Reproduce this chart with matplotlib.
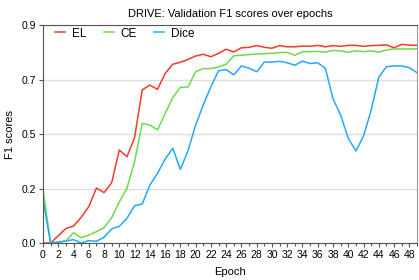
import matplotlib
matplotlib.use("Agg")
import matplotlib.pyplot as plt
from matplotlib.ticker import MultipleLocator

plt.rcParams['font.family'] = ['Liberation Sans', 'DejaVu Sans']

epochs = list(range(50))

el_scores = [0.0, 0.0, 0.03, 0.06, 0.07, 0.106, 0.15, 0.227, 0.208, 0.249,
             0.384, 0.356, 0.435, 0.632, 0.652, 0.634, 0.70, 0.738, 0.746, 0.758,
             0.772, 0.779, 0.769, 0.783, 0.80, 0.789, 0.806, 0.808, 0.815, 0.808,
             0.804, 0.815, 0.81, 0.81, 0.813, 0.812, 0.816, 0.81, 0.815, 0.812,
             0.816, 0.816, 0.812, 0.815, 0.816, 0.818, 0.806, 0.82, 0.817, 0.816]

ce_scores = [0.223, 0.0, 0.004, 0.008, 0.043, 0.022, 0.033, 0.047, 0.063, 0.105,
             0.17, 0.226, 0.336, 0.494, 0.487, 0.467, 0.535, 0.60, 0.643, 0.644,
             0.707, 0.72, 0.72, 0.727, 0.738, 0.773, 0.775, 0.778, 0.78, 0.782,
             0.783, 0.786, 0.787, 0.775, 0.79, 0.79, 0.791, 0.788, 0.795, 0.793,
             0.788, 0.793, 0.79, 0.793, 0.788, 0.797, 0.801, 0.801, 0.801, 0.802]

dice_scores = [0.178, 0.0, 0.004, 0.008, 0.014, 0.0, 0.01, 0.007, 0.024, 0.058,
               0.069, 0.102, 0.154, 0.161, 0.239, 0.288, 0.346, 0.391, 0.304, 0.381,
               0.487, 0.57, 0.645, 0.711, 0.716, 0.694, 0.731, 0.722, 0.707, 0.747,
               0.747, 0.75, 0.744, 0.734, 0.751, 0.741, 0.744, 0.721, 0.595, 0.528,
               0.432, 0.38, 0.442, 0.549, 0.685, 0.728, 0.731, 0.731, 0.724, 0.703]

series = [("EL", el_scores, "#F23A2A"),
          ("CE", ce_scores, "#6ADB4A"),
          ("Dice", dice_scores, "#22A8FF")]

y_ticks = [0.0, 0.225, 0.45, 0.675, 0.9]
y_labels = ["0.0", "0.2", "0.5", "0.7", "0.9"]

fig = plt.figure(figsize=(4.19, 2.8), dpi=100)
ax = fig.add_axes([0.1026, 0.1321, 0.8926, 0.7786])

for name, values, color in series:
    ax.plot(epochs, values, color=color, lw=1.1, label=name)

ax.set_xlim(0, 49)
ax.set_ylim(0, 0.9)
ax.xaxis.set_major_locator(MultipleLocator(2))
ax.xaxis.set_minor_locator(MultipleLocator(1))
ax.set_yticks(y_ticks)
ax.set_yticklabels(y_labels)
ax.grid(axis='y', color='#DDDDDD', lw=1)
ax.set_axisbelow(True)

ax.tick_params(axis='both', labelsize=7.5, length=3, width=0.8, color='#555555', pad=2)
ax.tick_params(axis='x', which='minor', length=2, width=0.8, color='#555555')
for side in ['left', 'top', 'bottom']:
    ax.spines[side].set_color('#555555')
ax.spines['right'].set_color('#999999')

ax.set_title("DRIVE: Validation F1 scores over epochs", fontsize=8, pad=6)
ax.set_xlabel("Epoch", fontsize=8, labelpad=5)
ax.set_ylabel("F1 scores", fontsize=8, labelpad=5)

ax.legend(loc='upper left', ncol=3, frameon=False, fontsize=8.5,
          handlelength=0.85, columnspacing=1.5, handletextpad=0.55,
          borderaxespad=0.0, bbox_to_anchor=(0.02, 1.01))

fig.savefig("out.png", dpi=100)
